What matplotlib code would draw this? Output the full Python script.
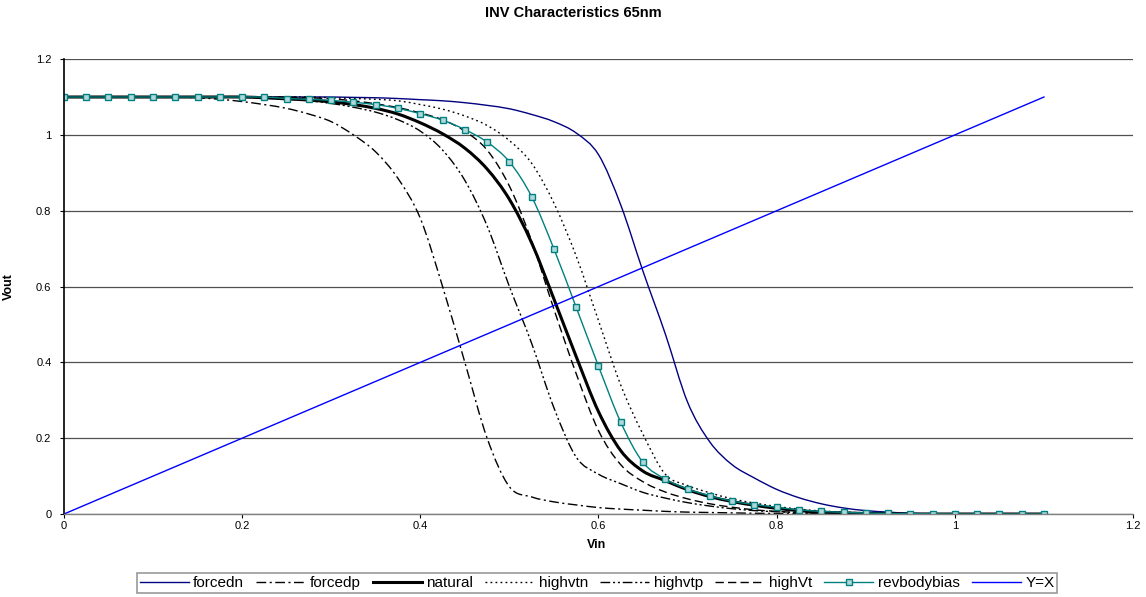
import numpy as np
import matplotlib
matplotlib.use("Agg")
import matplotlib.pyplot as plt
from matplotlib.path import Path
from matplotlib.patches import PathPatch
from matplotlib.lines import Line2D

plt.rcParams['font.family'] = ['Liberation Sans', 'DejaVu Sans']

# ---------------------------
# Data
# ---------------------------
vin = [round(0.025 * i, 3) for i in range(45)]   # 0 .. 1.1

forcedn = [1.1] * 13 + [1.099, 1.098, 1.096, 1.093, 1.09, 1.085, 1.078, 1.069,
                        1.054, 1.035, 1.005, 0.948, 0.815, 0.64, 0.475, 0.295,
                        0.19, 0.13, 0.095, 0.065, 0.043, 0.027, 0.016, 0.009,
                        0.005, 0.002, 0.001, 0.0005, 0, 0, 0, 0]
forcedp = [1.1] * 6 + [1.098, 1.094, 1.088, 1.08, 1.07, 1.055, 1.035, 1.0,
                       0.955, 0.885, 0.78, 0.60, 0.40, 0.2, 0.072, 0.045, 0.032,
                       0.024, 0.017, 0.013, 0.01, 0.007, 0.005, 0.004, 0.003,
                       0.002, 0.0015, 0.001, 0.0005, 0, 0, 0, 0, 0, 0, 0, 0, 0, 0]
natural = [1.1] * 9 + [1.098, 1.095, 1.092, 1.087, 1.08, 1.07, 1.055, 1.032,
                       1.003, 0.965, 0.91, 0.83, 0.715, 0.567, 0.415, 0.27,
                       0.167, 0.113, 0.088, 0.064, 0.046, 0.033, 0.023, 0.015,
                       0.009, 0.005, 0.003, 0.0015, 0.001, 0, 0, 0, 0, 0, 0, 0]
highvtn = [1.1] * 12 + [1.098, 1.096, 1.094, 1.09, 1.08, 1.068, 1.05, 1.025,
                        0.985, 0.925, 0.82, 0.68, 0.51, 0.34, 0.21, 0.105, 0.075,
                        0.056, 0.04, 0.029, 0.02, 0.013, 0.008, 0.005, 0.003,
                        0.0015, 0.001, 0, 0, 0, 0, 0, 0]
highvtp = [1.1] * 9 + [1.098, 1.095, 1.09, 1.083, 1.073, 1.06, 1.04, 1.01,
                       0.96, 0.88, 0.76, 0.6, 0.45, 0.28, 0.15, 0.105, 0.08,
                       0.057, 0.042, 0.03, 0.021, 0.014, 0.009, 0.006, 0.004,
                       0.002, 0.001, 0, 0, 0, 0, 0, 0, 0, 0, 0]
highVt = [1.1] * 11 + [1.098, 1.095, 1.09, 1.082, 1.072, 1.058, 1.04, 1.01,
                       0.96, 0.865, 0.72, 0.54, 0.37, 0.22, 0.13, 0.085, 0.058,
                       0.04, 0.027, 0.018, 0.011, 0.007, 0.004, 0.002, 0.001,
                       0, 0, 0, 0, 0, 0, 0, 0, 0]
revbodybias = [1.1] * 10 + [1.096, 1.094, 1.091, 1.086, 1.08, 1.07, 1.056,
                            1.039, 1.014, 0.981, 0.929, 0.837, 0.699, 0.545,
                            0.39, 0.242, 0.136, 0.092, 0.066, 0.048, 0.034,
                            0.025, 0.018, 0.011, 0.007, 0.0045, 0.0026, 0.0015,
                            0.001, 0.0005, 0, 0, 0, 0, 0]
y_eq_x = list(vin)   # the "Y=X" reference series

tick_vals = [0, 0.2, 0.4, 0.6, 0.8, 1.0, 1.2]
tick_text = ['0', '0.2', '0.4', '0.6', '0.8', '1', '1.2']


# ---------------------------
# Helper: Excel-like smoothed line through the points
# ---------------------------
def smooth_path(x, y):
    """Bezier path through every point (Catmull-Rom tangents)."""
    p = np.column_stack([x, y]).astype(float)
    n = len(p)
    verts = [p[0]]
    codes = [Path.MOVETO]
    for i in range(n - 1):
        p0 = p[i - 1] if i > 0 else p[i]
        p3 = p[i + 2] if i + 2 < n else p[i + 1]
        c1 = p[i] + (p[i + 1] - p0) / 6.0
        c2 = p[i + 1] - (p3 - p[i]) / 6.0
        verts += [c1, c2, p[i + 1]]
        codes += [Path.CURVE4] * 3
    return Path(verts, codes)


def smooth_line(ax, x, y, **kw):
    ax.add_patch(PathPatch(smooth_path(x, y), fill=False, **kw))


# ---------------------------
# Plot
# ---------------------------
fig = plt.figure(figsize=(11.46, 5.97), dpi=100)
ax = fig.add_axes([0.0558, 0.139, 0.9329, 0.762])

styles = [
    ('forcedn', forcedn, dict(color='#000080', lw=1.0, ls='-')),
    ('forcedp', forcedp, dict(color='black', lw=1.0, ls=(0, (7, 2.5, 1.5, 2.5)))),
    ('natural', natural, dict(color='black', lw=2.2, ls='-')),
    ('highvtn', highvtn, dict(color='black', lw=1.0, ls=(0, (1.3, 2.3)))),
    ('highvtp', highvtp, dict(color='black', lw=1.0, ls=(0, (7, 2, 1.5, 2, 1.5, 2)))),
    ('highVt', highVt, dict(color='black', lw=1.0, ls=(0, (6, 3)))),
    ('revbodybias', revbodybias, dict(color='#008080', lw=1.0, ls='-')),
]

handles = []
for name, yv, st in styles:
    smooth_line(ax, vin, yv, edgecolor=st['color'], lw=st['lw'], ls=st['ls'])
    if name == 'revbodybias':
        ax.plot(vin, yv, ls='none', marker='s', ms=4, mfc='#b0d8d8',
                mec='#008080', mew=1.0)
        handles.append(Line2D([], [], color=st['color'], lw=st['lw'], marker='s',
                              ms=4, mfc='#b0d8d8', mec='#008080', label=name))
    else:
        handles.append(Line2D([], [], color=st['color'], lw=st['lw'],
                              ls=st['ls'], label=name))

ln, = ax.plot(vin, y_eq_x, color='#0000FF', lw=1.0, label='Y=X')
handles.append(ln)

ax.set_xlim(0, 1.2)
ax.set_ylim(0, 1.2)
ax.set_xticks(tick_vals)
ax.set_yticks(tick_vals)
ax.set_xticklabels(tick_text)
ax.set_yticklabels(tick_text)
ax.tick_params(axis='x', labelsize=8, length=3, width=0.8, direction='out', pad=2)
ax.tick_params(axis='y', labelsize=8, length=3, width=0.8, direction='out', pad=6)
ax.yaxis.grid(True, color='#505050', lw=0.9)
ax.set_axisbelow(True)

for s in ['top', 'right']:
    ax.spines[s].set_visible(False)
ax.spines['left'].set_color('black')
ax.spines['left'].set_linewidth(1.2)
ax.spines['bottom'].set_color('#808080')
ax.spines['bottom'].set_linewidth(1.0)

ax.set_xlabel('Vin', fontsize=9, fontweight='bold')
ax.set_ylabel('Vout', fontsize=9, fontweight='bold')
ax.xaxis.set_label_coords(0.4986, -0.055)
ax.yaxis.set_label_coords(-0.046, 0.5)
fig.suptitle('INV Characteristics 65nm', fontsize=10.5, fontweight='bold', y=0.99)

leg = ax.legend(handles=handles, loc='upper center', bbox_to_anchor=(0.4986, -0.1297),
                ncol=8, fontsize=11, frameon=True, fancybox=False, edgecolor='#808080',
                handlelength=3.2, handletextpad=0.3, columnspacing=0.8,
                borderpad=0.2, borderaxespad=0)
leg.get_frame().set_linewidth(1.2)

fig.savefig('out.png', dpi=100)
